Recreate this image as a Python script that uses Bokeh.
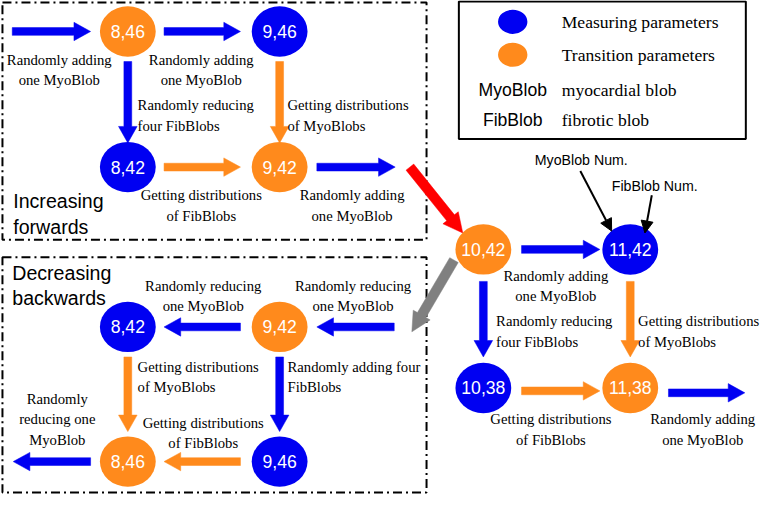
import math
from bokeh.plotting import figure
from bokeh.models import Range1d, Arrow, NormalHead
from bokeh.core.properties import value
from bokeh.embed import file_html
from bokeh.resources import INLINE

BLUE = "#0000F2"
ORANGE = "#FF8A1C"

# ---- nodes (MyoBlob num, FibBlob num) ----
node_label = ["8,46", "9,46", "8,42", "9,42", "10,42", "11,42", "10,38", "11,38",
              "8,42", "9,42", "8,46", "9,46"]
node_kind = ["t", "m", "m", "t", "t", "m", "m", "t", "m", "t", "t", "m"]
node_x = [130, 285, 130, 285, 493, 643, 493, 643, 130, 285, 130, 285]
node_y = [32, 32, 172, 172, 257, 257, 400, 400, 337, 337, 476, 476]

# ---- block arrows: x0, y0, x1, y1, kind ----
arr_x0 = [12, 167, 130, 285, 167, 323, 532, 493, 643, 532, 682, 245, 402, 130, 285, 245, 92]
arr_y0 = [32, 32, 63, 63, 172, 172, 257, 290, 290, 403, 405, 337, 337, 368, 368, 476, 476]
arr_x1 = [92, 245, 130, 285, 245, 403, 612, 493, 643, 612, 760, 167, 323, 130, 285, 167, 13]
arr_y1 = [32, 32, 147, 147, 172, 172, 257, 368, 368, 403, 405, 337, 337, 445, 445, 476, 476]
arr_kind = ["m", "m", "m", "t", "t", "m", "m", "m", "t", "t", "m", "m", "m", "t", "m", "t", "m"]

# big transition arrows (red forward, gray backward)
big_x0 = [418, 463]
big_y0 = [172, 268]
big_x1 = [472, 420]
big_y1 = [240, 342]
big_col = ["#FF0000", "#808080"]

# ---- serif captions: text, x, y, align ----
cap_text = [
    "Randomly adding\none MyoBlob", "Randomly adding\none MyoBlob",
    "Randomly reducing\nfour FibBlobs", "Getting distributions\nof MyoBlobs",
    "Getting distributions\nof FibBlobs", "Randomly adding\none MyoBlob",
    "Randomly reducing\none MyoBlob", "Randomly reducing\none MyoBlob",
    "Getting distributions\nof MyoBlobs", "Randomly adding four\nFibBlobs",
    "Randomly\nreducing one\nMyoBlob", "Getting distributions\nof FibBlobs",
    "Randomly adding\none MyoBlob", "Randomly reducing\nfour FibBlobs",
    "Getting distributions\nof MyoBlobs", "Getting distributions\nof FibBlobs",
    "Randomly adding\none MyoBlob",
]
cap_x = [60, 205, 140, 293, 205, 359, 207, 360, 140, 293, 58, 207, 567, 506, 651, 562, 717]
cap_y = [62, 62, 109, 109, 202, 202, 295, 295, 379, 379, 412, 437, 285, 332, 332, 433, 433]
cap_align = ["center", "center", "left", "left", "center", "center", "center", "center",
             "left", "left", "center", "center", "center", "left", "left", "center", "center"]

# ---- legend ----
leg_sym = ["MyoBlob", "FibBlob"]
leg_desc = ["Measuring parameters", "Transition parameters", "myocardial blob", "fibrotic blob"]
leg_y = [22, 56, 92, 123]

S = 761 / 777.0
p = figure(width=761, height=495, output_backend="svg", toolbar_location=None,
           x_range=Range1d(0, 777), y_range=Range1d(511, 0), min_border=0)
p.axis.visible = False
p.grid.visible = False
p.outline_line_color = None
p.background_fill_color = "white"

def px(v):
    return "%.1fpx" % (v * S)

# dashed group boxes
p.quad(left=[2, 2], right=[435, 435], top=[2, 265], bottom=[247, 508],
       fill_color=None, line_color="black", line_width=2, line_dash="9 4 2 4")
# legend box
p.quad(left=[468], right=[761], top=[1], bottom=[143],
       fill_color=None, line_color="black", line_width=2)

def block_arrow(x0, y0, x1, y1, shaft, hw, hl):
    dx, dy = x1 - x0, y1 - y0
    L = math.hypot(dx, dy)
    ux, uy = dx / L, dy / L
    nx, ny = -uy, ux
    bx, by = x1 - ux * hl, y1 - uy * hl
    pts = [
        (x0 + nx * shaft / 2, y0 + ny * shaft / 2),
        (bx + nx * shaft / 2, by + ny * shaft / 2),
        (bx + nx * hw / 2, by + ny * hw / 2),
        (x1, y1),
        (bx - nx * hw / 2, by - ny * hw / 2),
        (bx - nx * shaft / 2, by - ny * shaft / 2),
        (x0 - nx * shaft / 2, y0 - ny * shaft / 2),
    ]
    return [q[0] for q in pts], [q[1] for q in pts]

xs, ys, cols = [], [], []
for x0, y0, x1, y1, k in zip(arr_x0, arr_y0, arr_x1, arr_y1, arr_kind):
    a, b = block_arrow(x0, y0, x1, y1, 8, 19, 17)
    xs.append(a); ys.append(b); cols.append(BLUE if k == "m" else ORANGE)
for x0, y0, x1, y1, c in zip(big_x0, big_y0, big_x1, big_y1, big_col):
    a, b = block_arrow(x0, y0, x1, y1, 10, 20, 20)
    xs.append(a); ys.append(b); cols.append(c)
p.patches(xs=xs, ys=ys, fill_color=cols, line_color=cols, line_width=0.5)

# nodes
p.ellipse(x=node_x, y=node_y, width=57, height=52,
          fill_color=[BLUE if k == "m" else ORANGE for k in node_kind], line_color=None)
p.text(x=node_x, y=node_y, text=node_label, text_color="white",
       text_font=value("Liberation Sans"), text_font_size=px(18),
       text_align="center", text_baseline="middle")

# captions
for t, x, y, al in zip(cap_text, cap_x, cap_y, cap_align):
    p.text(x=[x], y=[y - 9], text=[t], text_font=value("Liberation Serif"),
           text_font_size=px(15), text_align=al, text_baseline="top",
           text_line_height=1.27, text_color="black")

# group titles
p.text(x=[13, 12], y=[196, 270], text=["Increasing\nforwards", "Decreasing\nbackwards"],
       text_font=value("Liberation Sans"), text_font_size=px(20), text_baseline="top",
       text_line_height=1.15, text_color="black")

# legend content
p.ellipse(x=[523, 523], y=leg_y[:2], width=30, height=25, fill_color=[BLUE, ORANGE], line_color=None)
p.text(x=[523, 523], y=leg_y[2:], text=leg_sym, text_font=value("Liberation Sans"),
       text_font_size=px(18), text_align="center", text_baseline="middle", text_color="black")
p.text(x=[573] * 4, y=leg_y, text=leg_desc, text_font=value("Liberation Serif"),
       text_font_size=px(18), text_align="left", text_baseline="middle", text_color="black")

# annotation pointers
p.text(x=[593, 668], y=[165, 192], text=["MyoBlob Num.", "FibBlob Num."],
       text_font=value("Liberation Sans"), text_font_size=px(14.5),
       text_align="center", text_baseline="middle", text_color="black")
for x0, y0, x1, y1 in [(592, 176, 624, 238), (665, 201, 658, 240)]:
    p.add_layout(Arrow(end=NormalHead(size=12, fill_color="black", line_color="black"),
                       x_start=x0, y_start=y0, x_end=x1, y_end=y1,
                       line_color="black", line_width=2))

open("out.html", "w").write(file_html(p, INLINE))
